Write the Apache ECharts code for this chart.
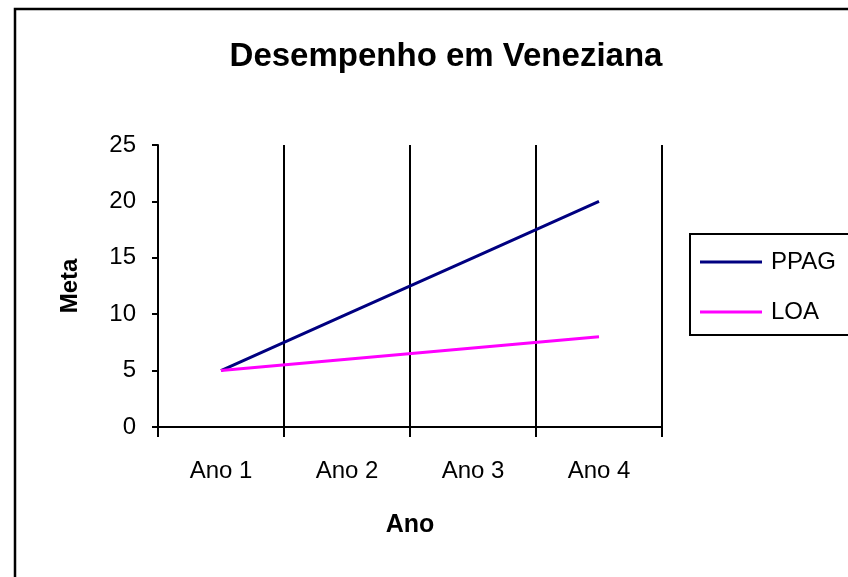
<!DOCTYPE html>
<html>
<head>
<meta charset="utf-8">
<script src="https://cdn.jsdelivr.net/npm/echarts@6/dist/echarts.min.js"></script>
<style>
  html, body { margin: 0; padding: 0; background: #fff; }
  #myChart { width: 848px; height: 577px; }
</style>
</head>
<body>
<div id="myChart"></div>
<script>
// dados do gráfico
const anos = ['Ano 1', 'Ano 2', 'Ano 3', 'Ano 4'];
const ppag = [5, 10, 15, 20];
const loa = [5, 6, 7, 8];

const fonte = '"Liberation Sans", Arial, sans-serif';

const myChart = echarts.init(document.getElementById('myChart'));
myChart.setOption({
  animation: false,
  backgroundColor: '#fff',
  title: {
    text: 'Desempenho em Veneziana',
    left: 441,
    textAlign: 'center',
    top: 35,
    textStyle: { fontFamily: fonte, fontSize: 33, fontWeight: 'bold', color: '#000' },
  },
  // moldura do gráfico (estilo Excel)
  graphic: [{
    type: 'rect',
    shape: { x: 15, y: 9, width: 900, height: 700 },
    style: { fill: 'none', stroke: '#000', lineWidth: 2.5 },
    silent: true,
  }],
  legend: {
    orient: 'vertical',
    left: 690,
    top: 234,
    padding: [16, 40, 11, 10],
    itemGap: 26,
    itemWidth: 62,
    itemHeight: 3,
    icon: 'rect',
    borderColor: '#000',
    borderWidth: 2,
    textStyle: { fontFamily: fonte, fontSize: 24, color: '#000', padding: [0, 0, 0, 4] },
    data: ['PPAG', 'LOA'],
  },
  grid: {
    left: 158,
    right: 186,
    top: 145,
    bottom: 150,
  },
  xAxis: {
    type: 'category',
    data: anos,
    boundaryGap: true,
    name: 'Ano',
    nameLocation: 'middle',
    nameGap: 86,
    nameTextStyle: { fontFamily: fonte, fontSize: 25, fontWeight: 'bold', color: '#000' },
    axisLine: { lineStyle: { color: '#000', width: 2 } },
    axisTick: { show: true, length: 10, lineStyle: { color: '#000', width: 2 } },
    axisLabel: { fontFamily: fonte, fontSize: 24, color: '#000', margin: 32 },
    splitLine: { show: true, lineStyle: { color: '#000', width: 2 } },
  },
  yAxis: {
    type: 'value',
    min: 0,
    max: 25,
    interval: 5,
    name: 'Meta',
    nameLocation: 'middle',
    nameGap: 76,
    nameTextStyle: { fontFamily: fonte, fontSize: 24, fontWeight: 'bold', color: '#000' },
    axisLine: { show: true, lineStyle: { color: '#000', width: 2 } },
    axisTick: { show: true, length: 6, lineStyle: { color: '#000', width: 2 } },
    axisLabel: { fontFamily: fonte, fontSize: 24, color: '#000', margin: 22 },
    splitLine: { show: false },
  },
  series: [
    {
      name: 'PPAG',
      type: 'line',
      data: ppag,
      symbol: 'none',
      lineStyle: { color: '#000080', width: 3 },
      itemStyle: { color: '#000080' },
    },
    {
      name: 'LOA',
      type: 'line',
      data: loa,
      symbol: 'none',
      lineStyle: { color: '#ff00ff', width: 3 },
      itemStyle: { color: '#ff00ff' },
    },
  ],
});
</script>
</body>
</html>
